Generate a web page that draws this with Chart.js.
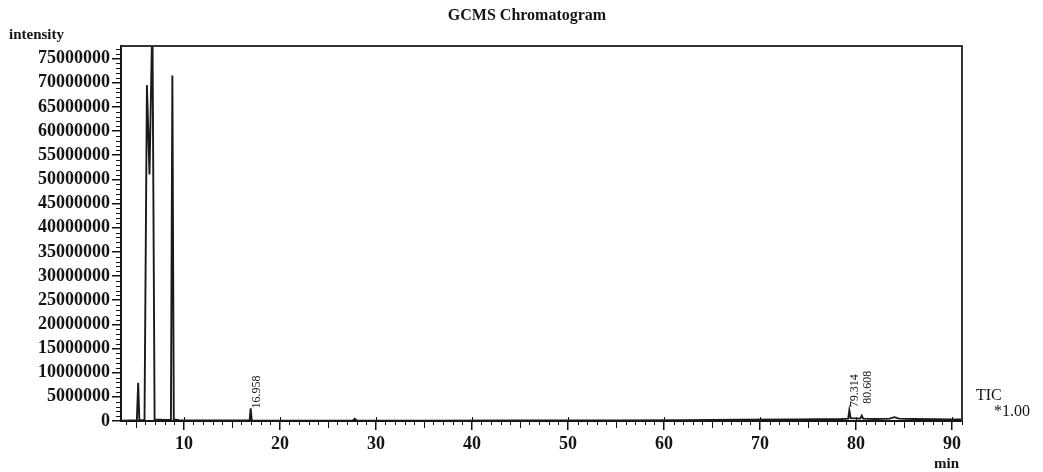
<!DOCTYPE html>
<html>
  <head>
   <meta charset='utf-8'>
   <title>GCMS Chromatogram</title>
   <script src="https://cdn.jsdelivr.net/npm/chart.js@4.4.1/dist/chart.umd.min.js"></script>
   <style>
     body { margin: 0; background: #fff; }
   </style>
  </head>
  <body>
    <canvas id="chart_tic" width="1043" height="472"></canvas>
    <script>
      // retention time (min) and total ion current
      var times = [3.5, 4.5, 5.1, 5.24, 5.36, 5.9, 6.15, 6.42, 6.72, 6.95, 7.5, 8.0, 8.65, 8.8, 8.95,
                   9.5, 12, 16.85, 16.958, 17.07, 22, 27.6, 27.8, 28.0, 35, 45, 55, 62, 68, 74,
                   78.5, 79.2, 79.314, 79.45, 80.45, 80.608, 80.75, 82, 83.5, 84.0, 84.5, 86, 88, 90, 91];
      var intensity = [50000, 100000, 100000, 7900000, 150000, 200000, 69500000, 51000000, 84000000, 300000, 250000, 200000, 200000, 71500000, 300000,
                   150000, 100000, 100000, 2600000, 100000, 80000, 100000, 450000, 100000, 80000, 100000, 100000, 150000, 250000, 300000,
                   400000, 500000, 2200000, 600000, 500000, 1100000, 500000, 400000, 500000, 800000, 500000, 400000, 350000, 300000, 300000];

      var yTicks = [0, 5000000, 10000000, 15000000, 20000000, 25000000, 30000000, 35000000,
                    40000000, 45000000, 50000000, 55000000, 60000000, 65000000, 70000000, 75000000];
      var xTicks = [10, 20, 30, 40, 50, 60, 70, 80, 90];

      // labelled peaks
      var peakTimes = [16.958, 79.314, 80.608];
      var peakHeights = [2600000, 2200000, 1100000];
      var peakNames = ["16.958", "79.314", "80.608"];

      var serif = "'Liberation Serif', 'DejaVu Serif', serif";
      var ink = "#151515";

      var points = times.map(function(t, i) { return {x: t, y: intensity[i]}; });

      // frame, minor ticks and the loose text round the plot
      var decorations = {
        id: "decorations",
        afterDraw: function(chart) {
          var ctx = chart.ctx;
          var area = chart.chartArea;
          var xs = chart.scales.x;
          var ys = chart.scales.y;
          ctx.save();

          ctx.strokeStyle = "#333";
          ctx.lineWidth = 2;
          ctx.beginPath();
          ctx.moveTo(area.left, area.top);
          ctx.lineTo(area.right, area.top);
          ctx.lineTo(area.right, area.bottom);
          ctx.stroke();

          ctx.strokeStyle = ink;
          ctx.lineWidth = 1;
          ctx.beginPath();
          for (var v = 1000000; v < ys.max; v += 1000000) {
            if (v % 5000000 === 0) continue;
            var py = Math.round(ys.getPixelForValue(v)) + 0.5;
            ctx.moveTo(area.left - 5, py);
            ctx.lineTo(area.left, py);
          }
          for (var t = 4; t <= 91; t++) {
            if (t % 10 === 0) continue;
            var px = Math.round(xs.getPixelForValue(t)) + 0.5;
            ctx.moveTo(px, area.bottom);
            ctx.lineTo(px, area.bottom + (t % 5 === 0 ? 7 : 4));
          }
          // major x ticks also poke into the plot a little
          xTicks.forEach(function(t) {
            var px = Math.round(xs.getPixelForValue(t)) + 0.5;
            ctx.moveTo(px, area.bottom - 4);
            ctx.lineTo(px, area.bottom);
          });
          ctx.stroke();

          ctx.fillStyle = ink;
          ctx.textBaseline = "middle";
          ctx.textAlign = "center";
          ctx.font = "bold 16px " + serif;
          ctx.fillText("GCMS Chromatogram", 527, 16);

          ctx.textAlign = "left";
          ctx.font = "bold 15px " + serif;
          ctx.fillText("intensity", 9, 35);

          ctx.font = "bold 15px " + serif;
          ctx.fillText("min", 934, 464);

          ctx.font = "16px " + serif;
          ctx.fillText("TIC", 976, 396);
          ctx.fillText("*1.00", 994, 412);

          // peak retention times written upward beside each peak
          var lift = [0, 3, 12];
          ctx.font = "12px " + serif;
          peakTimes.forEach(function(t, i) {
            var px = xs.getPixelForValue(t) + 6;
            var py = ys.getPixelForValue(peakHeights[i]) - lift[i];
            ctx.save();
            ctx.translate(px, py);
            ctx.rotate(-Math.PI / 2);
            ctx.textAlign = "left";
            ctx.fillText(peakNames[i], 0, 0);
            ctx.restore();
          });

          ctx.restore();
        }
      };

      var ctx_tic = document.getElementById("chart_tic").getContext("2d");
      var chart_tic = new Chart(ctx_tic, {
              type: "line",
              data: {datasets: [
                {data: points, borderColor: "#1a1a1a", borderWidth: 1.9, pointRadius: 0, tension: 0}
              ]},
              options: {
                responsive: false,
                animation: false,
                layout: {padding: {left: 0, top: 46, right: 81, bottom: 0}},
                plugins: {legend: {display: false}, tooltip: {enabled: false}},
                scales: {
                  x: {
                    type: "linear", min: 3.45, max: 91.05,
                    afterBuildTicks: function(scale) { scale.ticks = xTicks.map(function(v) { return {value: v}; }); },
                    afterFit: function(scale) { scale.height = 51; },
                    grid: {drawOnChartArea: false, drawTicks: true, tickLength: 9, color: ink, lineWidth: 1.5},
                    border: {display: true, color: ink, width: 2},
                    ticks: {font: {family: serif, size: 18, weight: "bold"}, color: ink, padding: 4, maxRotation: 0,
                            callback: function(v) { return String(v); }}
                  },
                  y: {
                    type: "linear", min: 0, max: 77600000,
                    afterBuildTicks: function(scale) { scale.ticks = yTicks.map(function(v) { return {value: v}; }); },
                    afterFit: function(scale) { scale.width = 121; },
                    grid: {drawOnChartArea: false, drawTicks: true, tickLength: 9, color: ink, lineWidth: 1.5},
                    border: {display: true, color: ink, width: 2},
                    ticks: {font: {family: serif, size: 18, weight: "bold"}, color: ink, padding: 2,
                            callback: function(v) { return String(v); }}
                  }
                }
              },
              plugins: [decorations]
      });
    </script>
  </body>
</html>
